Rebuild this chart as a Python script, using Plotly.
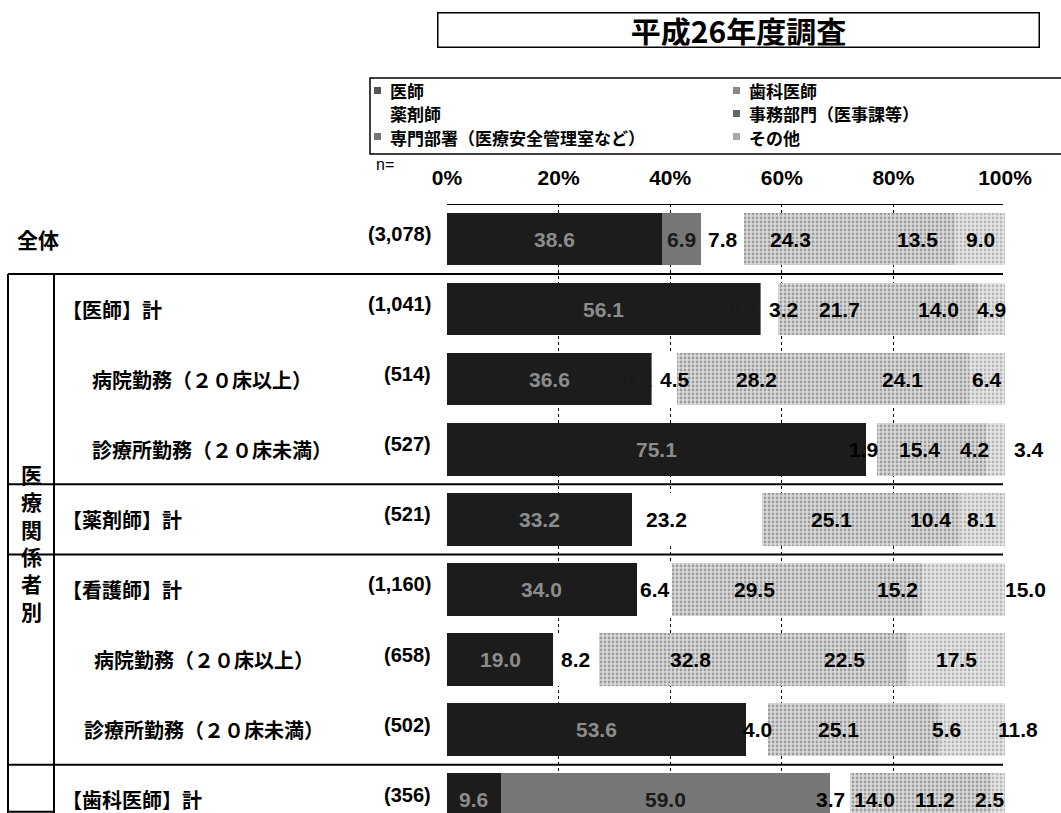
import plotly.graph_objects as go

# rows (top to bottom) and sample sizes
rows = ["全体", "【医師】計", "病院勤務（２０床以上）", "診療所勤務（２０床未満）",
        "【薬剤師】計", "【看護師】計", "病院勤務（２０床以上）", "診療所勤務（２０床未満）",
        "【歯科医師】計"]
n_labels = ["(3,078)", "(1,041)", "(514)", "(527)", "(521)", "(1,160)", "(658)", "(502)", "(356)"]
tick_vals = [0, 20, 40, 60, 80, 100]

# series values (%)
ishi = [38.6, 56.1, 36.6, 75.1, 33.2, 34.0, 19.0, 53.6, 9.6]
shika = [6.9, 0.1, 0.2, 0.0, 0.0, 0.0, 0.0, 0.0, 59.0]
yakuzai = [7.8, 3.2, 4.5, 1.9, 23.2, 6.4, 8.2, 4.0, 3.7]
jimu = [24.3, 21.7, 28.2, 15.4, 25.1, 29.5, 32.8, 25.1, 14.0]
senmon = [13.5, 14.0, 24.1, 4.2, 10.4, 15.2, 22.5, 5.6, 11.2]
sonota = [9.0, 4.9, 6.4, 3.4, 8.1, 15.0, 17.5, 11.8, 2.5]

series = [
    ("医師", ishi),
    ("歯科医師", shika),
    ("薬剤師", yakuzai),
    ("事務部門（医事課等）", jimu),
    ("専門部署（医療安全管理室など）", senmon),
    ("その他", sonota),
]

# styles
JP = "Noto Sans CJK JP"
NUM = "Liberation Sans, Arial, Noto Sans CJK JP"
speck = dict(shape=".", fgcolor="#5e5e5e", size=4, solidity=0.38)
styles = {
    "医師": dict(color="#1c1c1c", text="#8c8c8c", key="#555555"),
    "歯科医師": dict(color="#777777", text="#1a1a1a", key="#888888"),
    "薬剤師": dict(color="#ffffff", text="#000000", key="#ffffff"),
    "事務部門（医事課等）": dict(color="#dadada", text="#000000", pattern=speck, key="#666666"),
    "専門部署（医療安全管理室など）": dict(color="#dadada", text="#000000", pattern=speck, key="#777777"),
    "その他": dict(color="#e6e6e6", text="#000000", pattern=dict(speck, fgcolor="#888888"),
                key="#aaaaaa"),
}
# horizontal nudges (px) for labels that the original places off-centre
nudge = {
    (1, 1): -16, (1, 2): 14, (2, 1): -14, (2, 2): 10, (3, 2): -8, (3, 5): 33,
    (4, 2): -30, (5, 4): 18, (5, 5): 62, (7, 4): 22, (7, 5): 45,
    (8, 2): -10, (8, 3): -15, (8, 4): -25, (8, 5): -8, (0, 3): -22,
}

W, H = 1061, 813
L, R, T = 447, 1005, 204


def px(x):
    return (x - L) / (R - L)


def py(y):
    return 1 - (y - T) / (H - T)


ypos = list(range(len(rows)))
fig = go.Figure()
for name, vals in series:
    st = styles[name]
    marker = dict(color=st["color"], line=dict(width=0))
    if "pattern" in st:
        marker["pattern"] = dict(st["pattern"], bgcolor=st["color"])
    fig.add_trace(go.Bar(
        x=vals, y=ypos, orientation="h", name=name, marker=marker,
        hoverinfo="x+name",
    ))

# value labels
annotations = []
left = [0.0] * len(rows)
for si, (name, vals) in enumerate(series):
    for ri, v in enumerate(vals):
        if v > 0:
            annotations.append(dict(
                x=left[ri] + v / 2, y=ri, xref="x", yref="y", text=f"{v:.1f}",
                showarrow=False, xshift=nudge.get((ri, si), 0),
                font=dict(family=NUM, size=21, color=styles[name]["text"], weight="bold"),
            ))
        left[ri] += v

# row labels and n
indent = [15, 60, 90, 90, 60, 60, 92, 82, 60]
for ri, lab in enumerate(rows):
    annotations.append(dict(
        x=px(indent[ri]), y=ri, xref="paper", yref="y", text=lab, xanchor="left",
        showarrow=False, font=dict(family=JP, size=20 if ri else 21, color="#000", weight="bold"),
    ))
    annotations.append(dict(
        x=px(433), y=ri, xref="paper", yref="y", text=n_labels[ri], xanchor="right",
        yshift=5, showarrow=False,
        font=dict(family=NUM, size=20, color="#000", weight="bold"),
    ))

# vertical group label
annotations.append(dict(
    x=px(31), y=py(542), xref="paper", yref="paper", text="<br>".join("医療関係者別"),
    xanchor="center", yanchor="middle",
    showarrow=False, font=dict(family=JP, size=21, color="#000", weight="bold"),
))
annotations.append(dict(
    x=px(385), y=py(164), xref="paper", yref="paper", text="n=",
    xanchor="center", yanchor="middle",
    showarrow=False, font=dict(family=NUM, size=16, color="#000"),
))
# title box
annotations.append(dict(
    x=px(738), y=py(30), xref="paper", yref="paper", text="平成26年度調査",
    xanchor="center", yanchor="middle",
    showarrow=False, width=598, height=31, bordercolor="#000", borderwidth=1.5,
    font=dict(family=JP, size=30, color="#000", weight="bold"),
))

shapes = []

# legend box: two columns, filled row by row like the original
leg_cols = [374, 733]
leg_rows = [91, 114, 137]
for i, (name, _) in enumerate(series):
    cx, cy = leg_cols[i % 2], leg_rows[i // 2]
    shapes.append(dict(type="rect", xref="paper", yref="paper",
                       x0=px(cx), x1=px(cx + 7), y0=py(cy + 3), y1=py(cy - 4),
                       fillcolor=styles[name]["key"], line=dict(width=0)))
    annotations.append(dict(
        x=px(cx + 14), y=py(cy), xref="paper", yref="paper", text=name,
        xanchor="left", yanchor="middle", showarrow=False,
        font=dict(family=JP, size=17, color="#000", weight="bold"),
    ))
shapes.append(dict(type="rect", xref="paper", yref="paper",
                   x0=px(370), x1=px(1120), y0=py(154), y1=py(78),
                   line=dict(color="#000", width=1.5)))

# frame lines
line = dict(color="#000", width=2)
for yb in [0.5, 3.5, 4.5, 7.5]:
    shapes.append(dict(type="line", xref="paper", yref="y", x0=px(8), x1=px(1003),
                       y0=yb, y1=yb, line=line))
shapes.append(dict(type="line", xref="paper", yref="y", x0=0, x1=px(1003),
                   y0=-0.5, y1=-0.5, line=line))
for xv in [8, 54]:
    shapes.append(dict(type="line", xref="paper", yref="y", x0=px(xv), x1=px(xv),
                       y0=0.5, y1=8.2, line=line))
shapes.append(dict(type="line", xref="paper", yref="paper", x0=px(8), x1=px(54),
                   y0=0.002, y1=0.002, line=line))

fig.update_layout(
    width=W, height=H,
    barmode="stack", bargap=0.25,
    paper_bgcolor="white", plot_bgcolor="white",
    margin=dict(l=L, r=W - R, t=T, b=0, autoexpand=False),
    annotations=annotations, shapes=shapes,
    showlegend=False,
    xaxis=dict(
        side="top", range=[0, 100], tickmode="array", tickvals=tick_vals,
        ticktext=[f"{v}%" for v in tick_vals],
        showgrid=True, gridcolor="#000", griddash="dot", gridwidth=1, zeroline=False,
        showline=False, ticks="", ticklabelstandoff=14, fixedrange=True,
        tickfont=dict(family=NUM, size=21, color="#000", weight="bold"),
    ),
    yaxis=dict(
        range=[8.19, -0.5], showticklabels=False, showgrid=False, zeroline=False,
        fixedrange=True,
    ),
)

# drop the page's default 8px body margin so the figure sits at the window origin
fig.write_html("out.html", config={"displayModeBar": False},
               post_script="document.body.style.margin='0';")
